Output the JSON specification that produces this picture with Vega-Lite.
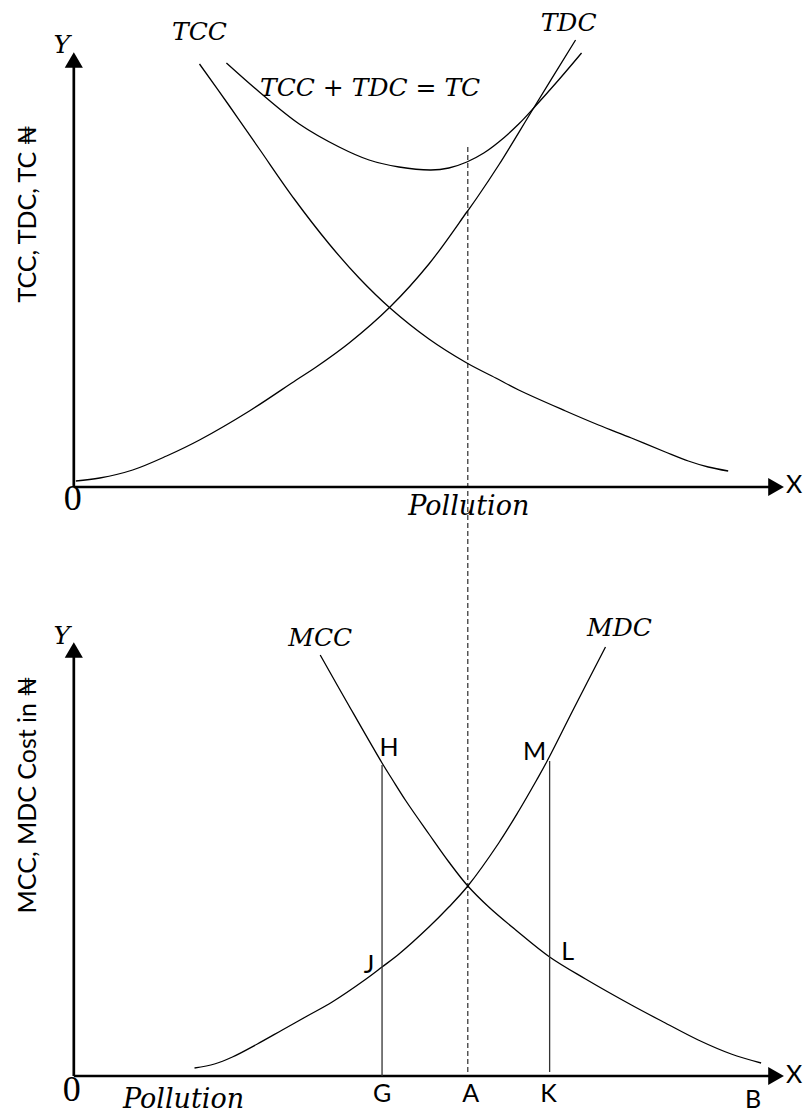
{
  "$schema": "https://vega.github.io/schema/vega-lite/v6.json",
  "width": 803,
  "height": 1113,
  "padding": 0,
  "autosize": {"type": "fit", "contains": "padding"},
  "background": "white",
  "config": {"view": {"stroke": null}},
  "datasets": {
    "curves": [
      {"curve": "TCC", "x": 200, "y": 64}, {"curve": "TCC", "x": 230, "y": 106}, {"curve": "TCC", "x": 260, "y": 149}, {"curve": "TCC", "x": 295, "y": 199},
      {"curve": "TCC", "x": 330, "y": 244}, {"curve": "TCC", "x": 360, "y": 278}, {"curve": "TCC", "x": 391, "y": 308}, {"curve": "TCC", "x": 430, "y": 339},
      {"curve": "TCC", "x": 468, "y": 363}, {"curve": "TCC", "x": 497, "y": 378}, {"curve": "TCC", "x": 520, "y": 390}, {"curve": "TCC", "x": 567, "y": 411},
      {"curve": "TCC", "x": 600, "y": 425}, {"curve": "TCC", "x": 633, "y": 438}, {"curve": "TCC", "x": 667, "y": 452}, {"curve": "TCC", "x": 690, "y": 461},
      {"curve": "TCC", "x": 710, "y": 467}, {"curve": "TCC", "x": 730, "y": 471},
      {"curve": "TDC", "x": 76, "y": 481}, {"curve": "TDC", "x": 100, "y": 478}, {"curve": "TDC", "x": 133, "y": 470}, {"curve": "TDC", "x": 167, "y": 456},
      {"curve": "TDC", "x": 200, "y": 440}, {"curve": "TDC", "x": 250, "y": 411}, {"curve": "TDC", "x": 297, "y": 380}, {"curve": "TDC", "x": 317, "y": 367},
      {"curve": "TDC", "x": 350, "y": 343}, {"curve": "TDC", "x": 391, "y": 307}, {"curve": "TDC", "x": 430, "y": 264}, {"curve": "TDC", "x": 468, "y": 212},
      {"curve": "TDC", "x": 478, "y": 198}, {"curve": "TDC", "x": 500, "y": 165}, {"curve": "TDC", "x": 535, "y": 108}, {"curve": "TDC", "x": 577, "y": 40},
      {"curve": "TC", "x": 227, "y": 63}, {"curve": "TC", "x": 260, "y": 92}, {"curve": "TC", "x": 300, "y": 124}, {"curve": "TC", "x": 340, "y": 147},
      {"curve": "TC", "x": 370, "y": 160}, {"curve": "TC", "x": 400, "y": 167}, {"curve": "TC", "x": 432, "y": 170}, {"curve": "TC", "x": 450, "y": 168},
      {"curve": "TC", "x": 468, "y": 162}, {"curve": "TC", "x": 485, "y": 153}, {"curve": "TC", "x": 500, "y": 142}, {"curve": "TC", "x": 520, "y": 124},
      {"curve": "TC", "x": 535, "y": 108}, {"curve": "TC", "x": 560, "y": 80}, {"curve": "TC", "x": 583, "y": 53},
      {"curve": "MCC", "x": 321, "y": 655}, {"curve": "MCC", "x": 350, "y": 706}, {"curve": "MCC", "x": 383, "y": 763}, {"curve": "MCC", "x": 393, "y": 779},
      {"curve": "MCC", "x": 407, "y": 801}, {"curve": "MCC", "x": 430, "y": 834}, {"curve": "MCC", "x": 450, "y": 862}, {"curve": "MCC", "x": 469, "y": 886},
      {"curve": "MCC", "x": 490, "y": 907}, {"curve": "MCC", "x": 517, "y": 930}, {"curve": "MCC", "x": 551, "y": 957}, {"curve": "MCC", "x": 587, "y": 979},
      {"curve": "MCC", "x": 633, "y": 1005}, {"curve": "MCC", "x": 667, "y": 1023}, {"curve": "MCC", "x": 700, "y": 1040}, {"curve": "MCC", "x": 733, "y": 1054},
      {"curve": "MCC", "x": 763, "y": 1063},
      {"curve": "MDC", "x": 195, "y": 1068}, {"curve": "MDC", "x": 215, "y": 1064}, {"curve": "MDC", "x": 233, "y": 1057}, {"curve": "MDC", "x": 258, "y": 1044},
      {"curve": "MDC", "x": 283, "y": 1030}, {"curve": "MDC", "x": 308, "y": 1016}, {"curve": "MDC", "x": 333, "y": 1002}, {"curve": "MDC", "x": 367, "y": 979},
      {"curve": "MDC", "x": 383, "y": 967}, {"curve": "MDC", "x": 400, "y": 954}, {"curve": "MDC", "x": 430, "y": 927}, {"curve": "MDC", "x": 450, "y": 907},
      {"curve": "MDC", "x": 469, "y": 886}, {"curve": "MDC", "x": 500, "y": 843}, {"curve": "MDC", "x": 520, "y": 811}, {"curve": "MDC", "x": 538, "y": 780},
      {"curve": "MDC", "x": 548, "y": 762}, {"curve": "MDC", "x": 575, "y": 709}, {"curve": "MDC", "x": 607, "y": 647}
    ],
    "axes": [
      {"x": 74, "y": 66, "x2": 74, "y2": 487},
      {"x": 74, "y": 487, "x2": 772, "y2": 487},
      {"x": 74, "y": 656, "x2": 74, "y2": 1076},
      {"x": 74, "y": 1076, "x2": 772, "y2": 1076}
    ],
    "drops": [
      {"x": 383, "y": 765, "x2": 383, "y2": 1076},
      {"x": 551, "y": 761, "x2": 551, "y2": 1072}
    ],
    "dashed": [{"x": 469, "y": 147, "x2": 469, "y2": 1076}],
    "arrows": [
      {"x": 74, "y": 60, "dir": "up"},
      {"x": 778, "y": 487, "dir": "right"},
      {"x": 74, "y": 650, "dir": "up"},
      {"x": 778, "y": 1076, "dir": "right"}
    ],
    "mathLabels": [
      {"text": "TCC", "x": 200, "y": 32},
      {"text": "TDC", "x": 570, "y": 23},
      {"text": "TCC + TDC = TC", "x": 371, "y": 88},
      {"text": "MCC", "x": 321, "y": 638},
      {"text": "MDC", "x": 621, "y": 628},
      {"text": "Y", "x": 62, "y": 45},
      {"text": "Y", "x": 62, "y": 636}
    ],
    "axisNames": [
      {"text": "Pollution", "x": 470, "y": 507},
      {"text": "Pollution", "x": 184, "y": 1100}
    ],
    "zeros": [
      {"text": "0", "x": 73, "y": 499},
      {"text": "0", "x": 72, "y": 1090}
    ],
    "letters": [
      {"text": "H", "x": 390, "y": 748},
      {"text": "M", "x": 536, "y": 752},
      {"text": "J", "x": 370, "y": 965},
      {"text": "L", "x": 569, "y": 952},
      {"text": "G", "x": 383, "y": 1094},
      {"text": "A", "x": 472, "y": 1094},
      {"text": "K", "x": 550, "y": 1094},
      {"text": "B", "x": 755, "y": 1100},
      {"text": "X", "x": 796, "y": 485},
      {"text": "X", "x": 796, "y": 1075}
    ],
    "titles": [
      {"text": "TCC, TDC, TC ₦", "x": 28, "y": 214},
      {"text": "MCC, MDC Cost in ₦", "x": 28, "y": 795}
    ]
  },
  "encoding": {
    "x": {"field": "x", "type": "quantitative", "scale": {"domain": [0, 803], "nice": false, "zero": false}, "axis": null},
    "y": {"field": "y", "type": "quantitative", "scale": {"domain": [0, 1113], "nice": false, "zero": false, "reverse": true}, "axis": null}
  },
  "layer": [
    {
      "data": {"name": "curves"},
      "mark": {"type": "line", "interpolate": "catmull-rom", "color": "black", "strokeWidth": 1.3},
      "encoding": {"detail": {"field": "curve", "type": "nominal"}}
    },
    {
      "data": {"name": "axes"},
      "mark": {"type": "rule", "color": "black", "strokeWidth": 2.7},
      "encoding": {"x2": {"field": "x2"}, "y2": {"field": "y2"}}
    },
    {
      "data": {"name": "drops"},
      "mark": {"type": "rule", "color": "#333333", "strokeWidth": 1.3},
      "encoding": {"x2": {"field": "x2"}, "y2": {"field": "y2"}}
    },
    {
      "data": {"name": "dashed"},
      "mark": {"type": "rule", "color": "black", "strokeWidth": 1, "strokeDash": [5, 3]},
      "encoding": {"x2": {"field": "x2"}, "y2": {"field": "y2"}}
    },
    {
      "data": {"name": "arrows"},
      "mark": {"type": "point", "filled": true, "color": "black", "size": 330, "opacity": 1},
      "encoding": {"shape": {"field": "dir", "type": "nominal", "scale": {"domain": ["up", "right"], "range": ["triangle-up", "triangle-right"]}, "legend": null}}
    },
    {
      "data": {"name": "mathLabels"},
      "mark": {"type": "text", "font": "DejaVu Serif", "fontStyle": "italic", "fontSize": 25, "align": "center", "baseline": "middle", "color": "black"},
      "encoding": {"text": {"field": "text"}}
    },
    {
      "data": {"name": "axisNames"},
      "mark": {"type": "text", "font": "DejaVu Serif", "fontStyle": "italic", "fontSize": 27, "align": "center", "baseline": "middle", "color": "black"},
      "encoding": {"text": {"field": "text"}}
    },
    {
      "data": {"name": "zeros"},
      "mark": {"type": "text", "font": "Liberation Serif", "fontSize": 36, "align": "center", "baseline": "middle", "color": "black"},
      "encoding": {"text": {"field": "text"}}
    },
    {
      "data": {"name": "letters"},
      "mark": {"type": "text", "font": "Lato, 'Noto Sans', 'DejaVu Sans'", "fontSize": 25, "align": "center", "baseline": "middle", "color": "black"},
      "encoding": {"text": {"field": "text"}}
    },
    {
      "data": {"name": "titles"},
      "mark": {"type": "text", "font": "Lato, 'Noto Sans', 'DejaVu Sans'", "fontSize": 25, "align": "center", "baseline": "middle", "angle": 270, "color": "black"},
      "encoding": {"text": {"field": "text"}}
    }
  ]
}
